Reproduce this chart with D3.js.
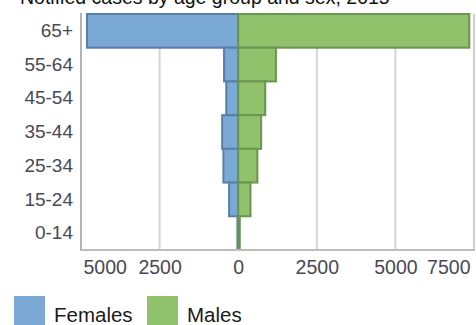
<!DOCTYPE html>
<html>
<head>
<meta charset="utf-8">
<script src="https://cdn.jsdelivr.net/npm/d3@7"></script>
<style>
  html, body { margin: 0; padding: 0; background: #fff; }
  svg { display: block; font-family: "Liberation Sans", Arial, sans-serif; }
</style>
</head>
<body>
<svg id="chart" width="476" height="325"></svg>
<script>
// Notified cases by age group and sex, 2015
const ageGroups = ["65+", "55-64", "45-54", "35-44", "25-34", "15-24", "0-14"];
const females = [4810, 450, 380, 510, 470, 290, 25];
const males = [7350, 1200, 860, 730, 610, 390, 50];
const xTicks = [-5000, -2500, 0, 2500, 5000, 7500];
const seriesNames = ["Females", "Males"];

const colors = {
  femaleFill: "#7ba9d5", femaleStroke: "#5a7fa6",
  maleFill: "#90c26c", maleStroke: "#6a9450"
};

const svg = d3.select("#chart");
const plot = { left: 81, right: 474, top: 14, bottom: 250 };

const x = d3.scaleLinear().domain([-5000, 7500]).range([plot.left, plot.right]);
const y = d3.scaleBand().domain(ageGroups).range([plot.top, plot.bottom]).padding(0);

// Title
svg.append("text")
  .attr("x", 20).attr("y", 4)
  .attr("font-size", 19.5).attr("fill", "#111")
  .text("Notified cases by age group and sex, 2015");

// Vertical gridlines
svg.append("g").selectAll("line")
  .data(xTicks.filter(d => d !== 0 && d !== -5000 && d !== 7500))
  .join("line")
  .attr("x1", d => x(d)).attr("x2", d => x(d))
  .attr("y1", plot.top).attr("y2", plot.bottom)
  .attr("stroke", "#d4d4d4").attr("stroke-width", 2);

// Right frame
svg.append("line")
  .attr("x1", plot.right).attr("x2", plot.right)
  .attr("y1", plot.top).attr("y2", plot.bottom)
  .attr("stroke", "#cfcfcf").attr("stroke-width", 2);

const rows = ageGroups.map((g, i) => ({ group: g, f: females[i], m: males[i] }));

// Female bars (left of zero)
svg.append("g").selectAll("rect")
  .data(rows).join("rect")
  .attr("x", d => x(-d.f))
  .attr("y", d => y(d.group))
  .attr("width", d => x(0) - x(-d.f))
  .attr("height", y.bandwidth())
  .attr("fill", colors.femaleFill)
  .attr("stroke", colors.femaleStroke)
  .attr("stroke-width", 2);

// Male bars (right of zero)
svg.append("g").selectAll("rect")
  .data(rows).join("rect")
  .attr("x", x(0))
  .attr("y", d => y(d.group))
  .attr("width", d => x(d.m) - x(0))
  .attr("height", y.bandwidth())
  .attr("fill", colors.maleFill)
  .attr("stroke", colors.maleStroke)
  .attr("stroke-width", 2);

// Left and bottom axis lines
svg.append("line")
  .attr("x1", plot.left).attr("x2", plot.left)
  .attr("y1", plot.top - 1).attr("y2", plot.bottom + 1)
  .attr("stroke", "#b4b4b4").attr("stroke-width", 2);
svg.append("line")
  .attr("x1", plot.left).attr("x2", plot.right + 1)
  .attr("y1", plot.bottom).attr("y2", plot.bottom)
  .attr("stroke", "#bdbdbd").attr("stroke-width", 2);

// Category labels
const yAxis = svg.append("g")
  .attr("transform", `translate(${plot.left - 8},0)`)
  .call(d3.axisLeft(y).tickSize(0).tickPadding(0));
yAxis.select(".domain").remove();
yAxis.selectAll("text")
  .attr("font-size", 19)
  .attr("font-family", "Liberation Sans, Arial, sans-serif")
  .attr("fill", "#484856");

// Value axis (absolute counts on both sides)
const xAxis = svg.append("g")
  .attr("transform", `translate(0,${plot.bottom})`)
  .call(d3.axisBottom(x).tickValues(xTicks).tickSize(0).tickPadding(10)
    .tickFormat(d => String(Math.abs(d))));
xAxis.select(".domain").remove();
xAxis.selectAll("text")
  .attr("font-size", 19.5)
  .attr("font-family", "Liberation Sans, Arial, sans-serif")
  .attr("fill", "#484856");
xAxis.selectAll(".tick").filter(d => d === xTicks[0]).select("text")
  .attr("text-anchor", "start").attr("x", 2);
xAxis.selectAll(".tick").filter(d => d === xTicks[xTicks.length - 1]).select("text")
  .attr("text-anchor", "end").attr("x", -4);

// Legend
const legend = svg.append("g");
const legendItems = [
  { name: seriesNames[0], fill: colors.femaleFill, x: 14 },
  { name: seriesNames[1], fill: colors.maleFill, x: 147 }
];
legend.selectAll("rect").data(legendItems).join("rect")
  .attr("x", d => d.x).attr("y", 296)
  .attr("width", 31).attr("height", 31)
  .attr("fill", d => d.fill);
legend.selectAll("text").data(legendItems).join("text")
  .attr("x", d => d.x + 40).attr("y", 322)
  .attr("font-size", 20.5).attr("fill", "#1a1a1a")
  .text(d => d.name);
</script>
</body>
</html>
